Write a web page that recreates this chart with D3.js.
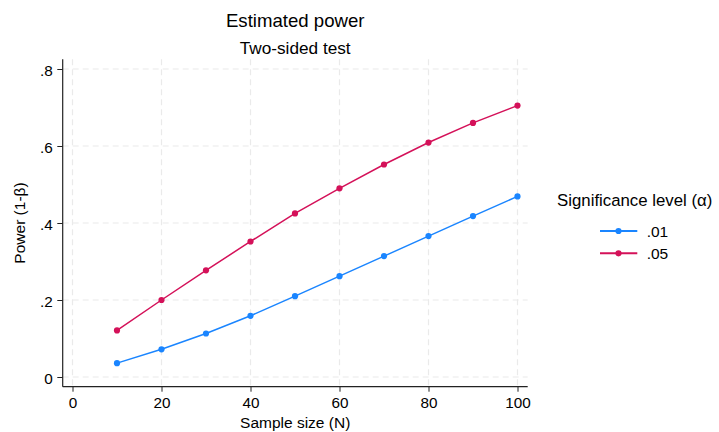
<!DOCTYPE html>
<html>
<head>
<meta charset="utf-8">
<script src="https://cdn.jsdelivr.net/npm/d3@7"></script>
<style>
  body { margin: 0; background: #fff; }
  svg { display: block; font-family: "Liberation Sans", Arial, sans-serif; }
</style>
</head>
<body>
<script>
// power curves
const sampleSizes = [10, 20, 30, 40, 50, 60, 70, 80, 90, 100];
const power01 = [0.036, 0.072, 0.113, 0.159, 0.210, 0.262, 0.314, 0.366, 0.418, 0.469];
const power05 = [0.121, 0.200, 0.277, 0.352, 0.425, 0.490, 0.552, 0.609, 0.660, 0.705];
const levelLabels = [".01", ".05"];
const xTicks = [0, 20, 40, 60, 80, 100];
const yTicks = [0, 0.2, 0.4, 0.6, 0.8];

const W = 719, H = 432;
// plot region edges (top is a window global, so use other names)
const pLeft = 62.7, pRight = 527.7, pTop = 59.3, pBottom = 386.7;
const colors = ["#1a85ff", "#d41159"];

const svg = d3.select("body").append("svg")
  .attr("width", W)
  .attr("height", H);

const x = d3.scaleLinear().domain([0, 100]).range([pLeft + 9.8, pRight - 10.2]);
const y = d3.scaleLinear().domain([0, 0.8]).range([pBottom - 9.7, pTop + 9.7]);

// stata style: .2 .4 ... with no leading zero
const yFmt = d => d === 0 ? "0" : d3.format(".1f")(d).replace(/^0/, "");
const xFmt = d3.format("d");

// grid
svg.append("g").selectAll("line")
  .data(xTicks)
  .join("line")
  .attr("x1", d => x(d)).attr("x2", d => x(d))
  .attr("y1", pTop).attr("y2", pBottom)
  .attr("stroke", "#eaeaea")
  .attr("stroke-width", 1.2)
  .attr("stroke-dasharray", "6,4");

svg.append("g").selectAll("line")
  .data(yTicks)
  .join("line")
  .attr("x1", pLeft).attr("x2", pRight)
  .attr("y1", d => y(d)).attr("y2", d => y(d))
  .attr("stroke", "#eaeaea")
  .attr("stroke-width", 1.2)
  .attr("stroke-dasharray", "6,4");

// axes
const yAxis = svg.append("g")
  .attr("transform", `translate(${pLeft},0)`)
  .call(d3.axisLeft(y).tickValues(yTicks).tickFormat(yFmt).tickSize(5.4).tickPadding(4.6));
yAxis.select(".domain").remove();
yAxis.selectAll("text").attr("dy", "0.4em");

const xAxis = svg.append("g")
  .attr("transform", `translate(0,${pBottom})`)
  .call(d3.axisBottom(x).tickValues(xTicks).tickFormat(xFmt).tickSize(5).tickPadding(5.6));
xAxis.select(".domain").remove();

svg.selectAll(".tick text")
  .attr("font-size", "15.3px")
  .attr("font-family", "Liberation Sans, Arial, sans-serif")
  .attr("fill", "#000");
svg.selectAll(".tick line").attr("stroke", "#222");

svg.append("line")
  .attr("x1", pLeft).attr("x2", pLeft)
  .attr("y1", pTop).attr("y2", pBottom)
  .attr("stroke", "#222").attr("stroke-width", 1.2);
svg.append("line")
  .attr("x1", pLeft).attr("x2", pRight)
  .attr("y1", pBottom).attr("y2", pBottom)
  .attr("stroke", "#222").attr("stroke-width", 1.2);

// series
const series = [power01, power05];
const line = d3.line()
  .x((d, i) => x(sampleSizes[i]))
  .y(d => y(d));

series.forEach((vals, k) => {
  svg.append("path")
    .attr("d", line(vals))
    .attr("fill", "none")
    .attr("stroke", colors[k])
    .attr("stroke-width", 1.5);
  svg.append("g").selectAll("circle")
    .data(vals)
    .join("circle")
    .attr("cx", (d, i) => x(sampleSizes[i]))
    .attr("cy", d => y(d))
    .attr("r", 3.1)
    .attr("fill", colors[k]);
});

// titles
const cx = (pLeft + pRight) / 2;
svg.append("text")
  .attr("x", cx).attr("y", 27.3)
  .attr("text-anchor", "middle")
  .attr("font-size", "18.6px")
  .text("Estimated power");
svg.append("text")
  .attr("x", cx).attr("y", 54)
  .attr("text-anchor", "middle")
  .attr("font-size", "17.2px")
  .text("Two-sided test");

svg.append("text")
  .attr("x", cx).attr("y", 427.7)
  .attr("text-anchor", "middle")
  .attr("font-size", "15.5px")
  .text("Sample size (N)");

svg.append("text")
  .attr("transform", `translate(25,${(pTop + pBottom) / 2}) rotate(-90)`)
  .attr("text-anchor", "middle")
  .attr("font-size", "15.5px")
  .text("Power (1-β)");

// legend
svg.append("text")
  .attr("x", 634.7).attr("y", 206)
  .attr("text-anchor", "middle")
  .attr("font-size", "16.8px")
  .text("Significance level (α)");

levelLabels.forEach((lab, k) => {
  const ly = 231 + k * 22.3;
  svg.append("line")
    .attr("x1", 600).attr("x2", 637.3)
    .attr("y1", ly).attr("y2", ly)
    .attr("stroke", colors[k])
    .attr("stroke-width", 2);
  svg.append("circle")
    .attr("cx", 618.5).attr("cy", ly)
    .attr("r", 3.1)
    .attr("fill", colors[k]);
  svg.append("text")
    .attr("x", 646.7).attr("y", ly + 6)
    .attr("font-size", "15.5px")
    .text(lab);
});
</script>
</body>
</html>
